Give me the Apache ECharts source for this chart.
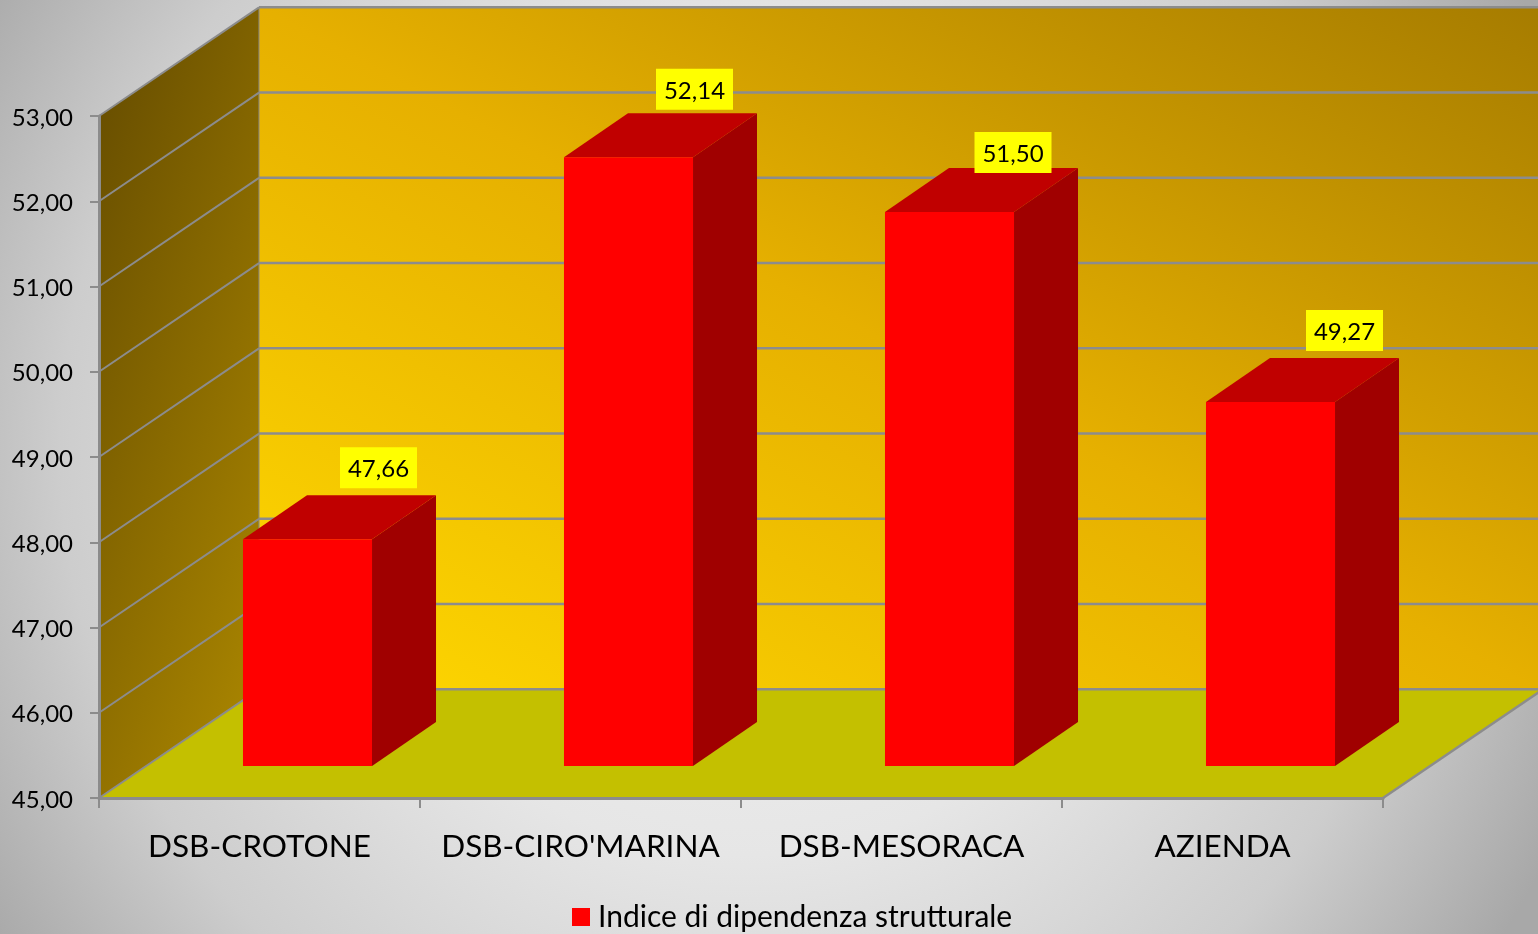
<!DOCTYPE html>
<html><head><meta charset="utf-8">
<style>html,body{margin:0;padding:0;background:#fff}#c{width:1538px;height:934px}</style>
<script src="https://cdn.jsdelivr.net/npm/echarts@6/dist/echarts.min.js"></script>
</head><body><div id="c"></div>
<script>
const categories = ['DSB-CROTONE', "DSB-CIRO'MARINA", 'DSB-MESORACA', 'AZIENDA'];
const values = [47.66, 52.14, 51.50, 49.27];
const yTicks = [45, 46, 47, 48, 49, 50, 51, 52, 53];
const seriesName = 'Indice di dipendenza strutturale';

const FONT = 'Lato, "Open Sans", sans-serif';
const GRID = '#8c8c8c';
// 3D projection (pixels)
const WALL_DX = 160, WALL_DY = 108.7;
const BAR_DX = 48, BAR_DY = 32, DEPTH_DX = 64, DEPTH_DY = 44;
const BAR_W_RATIO = 0.402;
// manual placement of the data labels relative to the bar's top face centre
const labelShift = [[39, -71.5], [34, -68], [31.5, -59.5], [42, -71.5]];
const fmt = v => v.toFixed(2).replace('.', ',');

function poly(points, fill, stroke, sw) {
  return { type: 'polygon', shape: { points },
    style: { fill: fill || 'none', stroke: stroke || 'none', lineWidth: sw || 0 } };
}
function seg(a, b, w) {
  return { type: 'line', shape: { x1: a[0], y1: a[1], x2: b[0], y2: b[1] },
    style: { stroke: GRID, lineWidth: w } };
}
function linear(x, y, x2, y2, stops) {
  return { type: 'linear', x, y, x2, y2, global: true,
    colorStops: stops.map(c => ({ offset: c[0], color: c[1] })) };
}

function renderWalls(params, api) {
  const cs = params.coordSys;
  const L = cs.x, R = cs.x + cs.width;
  const y0 = api.coord([0, yTicks[0]])[1];
  const yT = api.coord([0, yTicks[yTicks.length - 1]])[1];
  const backL = L + WALL_DX, backR = R + WALL_DX;
  const children = [];
  // back wall
  children.push(poly([[backL, yT - WALL_DY], [backR, yT - WALL_DY], [backR, y0 - WALL_DY], [backL, y0 - WALL_DY]],
    linear(614, 880, 1182, -184, [[0, '#ffd800'], [0.5, '#e6b000'], [1, '#a67c00']])));
  // side wall
  children.push(poly([[L, yT], [backL, yT - WALL_DY], [backL, y0 - WALL_DY], [L, y0]],
    linear(99, 116, 423, 231, [[0, '#6a5000'], [1, '#a88400']])));
  // floor
  children.push(poly([[L, y0], [R, y0], [backR, y0 - WALL_DY], [backL, y0 - WALL_DY]], '#c4c000'));
  // grid lines
  yTicks.forEach(t => {
    const y = api.coord([0, t])[1];
    children.push(seg([L, y], [backL, y - WALL_DY], 2));
    children.push(seg([backL, y - WALL_DY], [backR, y - WALL_DY], 2.5));
  });
  children.push(seg([backL, yT - WALL_DY], [backL, y0 - WALL_DY], 1));
  children.push(seg([R, y0], [backR, y0 - WALL_DY], 2.5));
  return { type: 'group', children };
}

function renderBar(params, api) {
  const i = api.value(0), v = api.value(1);
  const c = api.coord([i, v]), b = api.coord([i, yTicks[0]]);
  const w = api.size([1, 0])[0] * BAR_W_RATIO;
  const xl = c[0] + BAR_DX - w / 2, xr = xl + w;
  const yt = c[1] - BAR_DY, yb = b[1] - BAR_DY;
  const lx = (xl + xr) / 2 + DEPTH_DX / 2 + labelShift[i][0];
  const ly = yt + labelShift[i][1];
  return { type: 'group', children: [
    poly([[xr, yt], [xr + DEPTH_DX, yt - DEPTH_DY], [xr + DEPTH_DX, yb - DEPTH_DY], [xr, yb]], '#a00000'),
    poly([[xl, yt], [xl + DEPTH_DX, yt - DEPTH_DY], [xr + DEPTH_DX, yt - DEPTH_DY], [xr, yt]], '#c00000'),
    { type: 'rect', shape: { x: xl, y: yt, width: w, height: yb - yt }, style: { fill: '#ff0000' } },
    { type: 'rect', shape: { x: lx - 38.5, y: ly - 20.5, width: 77, height: 41 }, style: { fill: '#ffff00' } },
    { type: 'text', x: lx, y: ly + 2, style: { text: fmt(v), fill: '#000', font: '24px ' + FONT,
        align: 'center', verticalAlign: 'middle' } }
  ] };
}

const chart = echarts.init(document.getElementById('c'), null, { renderer: 'canvas' });
chart.setOption({
  animation: false,
  backgroundColor: { type: 'radial', x: 745, y: 450, r: 900, global: true,
    colorStops: [{ offset: 0, color: '#f4f4f4' }, { offset: 0.45, color: '#e6e6e6' },
      { offset: 0.76, color: '#cdcdcd' }, { offset: 1, color: '#a8a8a8' }] },
  grid: { left: 99, right: 155, top: 116, bottom: 136, containLabel: false },
  legend: { show: true, left: 572, top: 902, padding: 0, itemWidth: 18, itemHeight: 18,
    data: [{ name: seriesName, icon: 'rect', itemStyle: { color: '#ff0000' } }],
    textStyle: { fontFamily: FONT, fontSize: 30, color: '#000', padding: [0, 0, 0, 3] } },
  xAxis: { type: 'category', data: categories, z: 2,
    axisLine: { show: true, lineStyle: { color: GRID, width: 3 } },
    axisTick: { show: true, length: 10, alignWithLabel: false, lineStyle: { color: GRID, width: 2 } },
    axisLabel: { interval: 0, margin: 33, fontFamily: FONT, fontSize: 31.5, color: '#000' } },
  yAxis: { type: 'value', min: 45, max: 53, interval: 1, z: 2,
    splitLine: { show: false },
    axisLine: { show: true, lineStyle: { color: GRID, width: 3 } },
    axisTick: { show: true, length: 9, lineStyle: { color: GRID, width: 2 } },
    axisLabel: { margin: 26, color: '#000',
      formatter: v => '{a|' + fmt(v) + '}',
      rich: { a: { fontFamily: FONT, fontSize: 24, color: '#000', padding: [4, 0, 0, 0] } } } },
  series: [
    { type: 'custom', name: 'walls', z: 1, silent: true, clip: false, renderItem: renderWalls,
      data: [[0, yTicks[0]]], encode: { x: 0, y: 1 } },
    { type: 'custom', name: seriesName, z: 3, clip: false, renderItem: renderBar,
      itemStyle: { color: '#ff0000' }, data: values.map((v, i) => [i, v]), encode: { x: 0, y: 1 } }
  ]
});
</script></body></html>
